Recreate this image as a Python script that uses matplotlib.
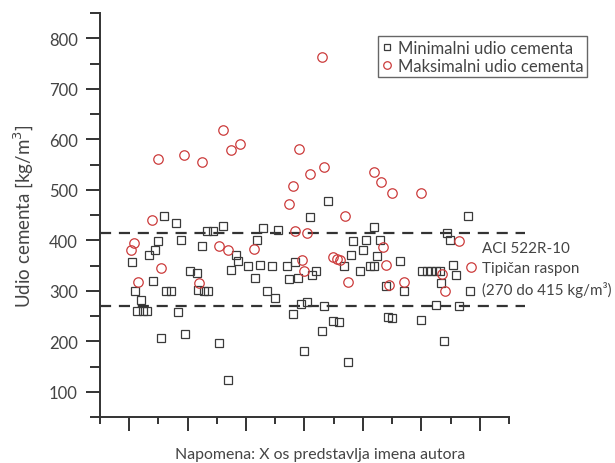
import matplotlib.pyplot as plt
from matplotlib.ticker import MultipleLocator, NullFormatter
import numpy as np

plt.rcParams['font.family'] = ['Lato', 'DejaVu Sans']

# minimalni udio cementa (kvadrati): polozaj autora na x osi i vrijednost
min_x = [5.5, 6.0, 7.0, 6.3, 7.4, 8.0, 8.4, 9.4, 9.9, 9.1, 11.0, 13.0, 11.3, 12.2,
         10.4, 13.3, 13.9, 14.5, 15.4, 16.6, 17.5, 16.8, 17.8, 18.5, 18.3, 19.3,
         21.1, 20.4, 21.9, 22.4, 23.3, 23.6, 25.3, 26.5, 26.9, 27.4, 27.9, 28.6,
         29.4, 30.0, 30.5, 32.0, 32.3, 33.0, 33.4, 33.9, 34.4, 34.9, 35.4, 35.9,
         36.3, 37.0, 38.0, 38.3, 39.0, 39.9, 40.9, 41.8, 42.4, 43.0, 43.3, 44.5,
         45.0, 45.5, 46.2, 46.9, 46.9, 47.4, 47.9, 48.9, 49.3, 50.0, 51.3, 52.0,
         54.9, 55.1, 56.0, 56.7, 57.5, 58.2, 57.5, 58.4, 58.9, 59.4, 59.9, 60.4,
         60.9, 61.4, 63.0, 63.3]
min_y = [356, 300, 282, 260, 260, 260, 370, 380, 398, 320, 449, 435, 300, 300,
         207, 258, 400, 215, 340, 335, 389, 302, 300, 300, 419, 419,
         429, 197, 124, 342, 371, 358, 350, 326, 400, 352, 425, 300,
         350, 286, 420, 350, 324, 254, 356, 326, 274, 181, 278, 447,
         332, 340, 221, 270, 478, 240, 238, 350, 159, 371, 398, 340,
         380, 400, 350, 350, 427, 368, 400, 310, 249, 247, 358, 300,
         242, 340, 340, 340, 340, 340, 272, 315, 200, 415, 400, 352,
         331, 270, 449, 300]

# maksimalni udio cementa (krugovi)
max_x = [5.3, 5.8, 6.5, 8.9, 9.9, 10.4, 14.4, 16.9, 17.5, 20.4, 21.1, 21.9, 22.4,
         24.0, 26.4, 32.4, 33.0, 33.4, 34.1, 34.6, 34.9, 35.4, 35.9, 38.0, 38.3,
         39.9, 40.6, 41.1, 41.9, 42.5, 46.9, 48.1, 48.4, 49.0, 49.5, 50.0, 52.0,
         54.9, 58.5, 59.1, 61.4, 63.5]
max_y = [381, 394, 318, 440, 560, 345, 568, 315, 555, 389, 618, 380, 578,
         590, 383, 472, 508, 419, 580, 360, 340, 415, 532, 763, 546,
         367, 362, 360, 449, 318, 536, 516, 387, 352, 312, 494, 317,
         494, 334, 300, 398, 348]

aci_low = 270
aci_high = 415

fig = plt.figure(figsize=(6.15, 4.64), dpi=100)
ax = fig.add_axes([0.1626, 0.0991, 0.665, 0.8707])

ax.plot(min_x, min_y, linestyle='none', marker='s', markersize=5.8,
        markerfacecolor='none', markeredgecolor='#3a3a3a', markeredgewidth=0.9,
        label='Minimalni udio cementa')
ax.plot(max_x, max_y, linestyle='none', marker='o', markersize=6.8,
        markerfacecolor='none', markeredgecolor='#cc3c3c', markeredgewidth=0.9,
        label='Maksimalni udio cementa')

for yv in (aci_low, aci_high):
    ax.plot([0, 72.7], [yv, yv], color='#333333', linewidth=1.6,
            dashes=(5, 3.5), clip_on=False, zorder=1)

ax.set_xlim(0, 70)
ax.set_ylim(50, 850)
ax.set_xticks(np.arange(5, 70, 10))
ax.set_xticks(np.arange(0, 71, 10), minor=True)
ax.xaxis.set_major_formatter(NullFormatter())
ax.yaxis.set_minor_locator(MultipleLocator(50))
ax.set_yticks(np.arange(100, 801, 100))

for s in ('top', 'right'):
    ax.spines[s].set_visible(False)
for s in ('left', 'bottom'):
    ax.spines[s].set_color('#333333')
    ax.spines[s].set_linewidth(1.4)

ax.tick_params(axis='x', which='major', direction='out', length=10, width=1.4, color='#333333')
ax.tick_params(axis='x', which='minor', direction='out', length=5, width=1.4, color='#333333')
ax.tick_params(axis='y', which='major', direction='out', length=10, width=1.4,
               color='#333333', labelsize=12, labelcolor='#444444', pad=6)
ax.tick_params(axis='y', which='minor', direction='out', length=7, width=1.4, color='#333333')

ax.set_ylabel('Udio cementa [kg/m$^3$]', fontsize=13.5, color='#444444', labelpad=9)
fig.text(0.52, 0.02, 'Napomena: X os predstavlja imena autora', fontsize=11.4,
         color='#444444', ha='center', va='center')

leg = ax.legend(loc='upper right', bbox_to_anchor=(1.212, 0.963), fontsize=12,
                handlelength=0.6, handletextpad=0.4, borderpad=0.2, labelspacing=0.15,
                fancybox=False, framealpha=1, edgecolor='#666666', markerscale=0.8)
for t in leg.get_texts():
    t.set_color('#444444')

ax.text(0.934, 0.366, 'ACI 522R-10\nTipičan raspon\n(270 do 415 kg/m³)',
        transform=ax.transAxes, fontsize=10.9, color='#444444',
        va='center', ha='left', linespacing=1.5, clip_on=False)

fig.savefig('out.png', dpi=100)
